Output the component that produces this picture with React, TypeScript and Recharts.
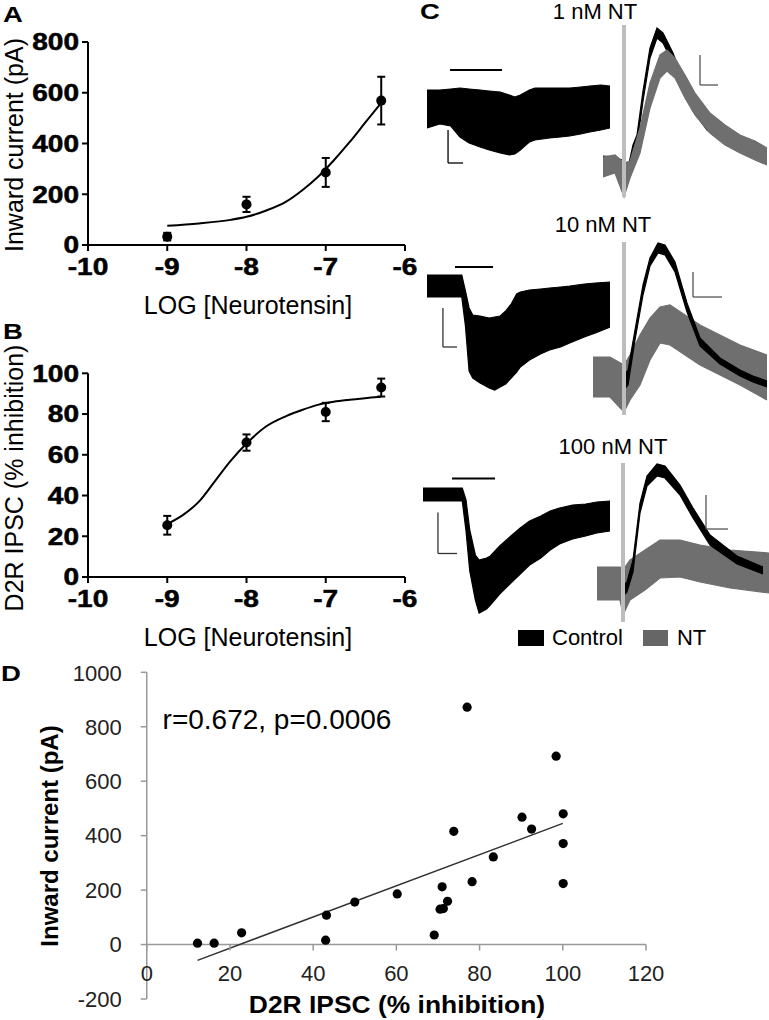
import React from 'react';
import {
  ComposedChart,
  ScatterChart,
  Scatter,
  Line,
  Area,
  XAxis,
  YAxis,
  ErrorBar,
  ReferenceLine,
} from 'recharts';

// ---- panel A: inward current vs log [NT]
const logConc = [-9, -8, -7, -6.3];
const currentMean = [33, 160, 286, 569];
const currentSem = [15, 30, 57, 94];
const currentFitX = [-9, -8.6, -8.2, -8, -7.75, -7.5, -7.3, -7.1, -6.9, -6.7, -6.5, -6.3];
const currentFitY = [76, 85, 99, 111, 136, 171, 215, 268, 333, 405, 483, 560];
const currentTicks = [0, 200, 400, 600, 800];

// ---- panel B: D2R IPSC inhibition vs log [NT]
const ipscMean = [25.4, 66, 81, 93];
const ipscSem = [4.6, 4, 4.5, 4.4];
const ipscFitX = [-9, -8.8, -8.6, -8.4, -8.2, -8, -7.75, -7.5, -7.3, -7.1, -6.9, -6.7, -6.3];
const ipscFitY = [26, 30.5, 37, 47, 57, 65.5, 74, 79, 82, 84.5, 86, 87, 88.5];
const ipscTicks = [0, 20, 40, 60, 80, 100];
const logTicks = [-10, -9, -8, -7, -6];

// ---- panel C: example traces (envelope of the noisy band, arbitrary units, baseline = 0)
// 1 nM holding current
const c1HoldT = [0, 7, 13, 18, 23, 29, 34, 40, 45, 48, 51, 54, 56, 59, 67, 73, 78, 84, 89, 95, 100];
const c1HoldHi = [0, 0, 1, 2, 1, 0, -1, -2, -5, -7, -5, -2, 0, 2, 2, 2, 2, 3, 4, 5, 4];
const c1HoldLo = [-38, -34, -36, -47, -53, -57, -60, -63, -65, -64, -60, -55, -52, -50, -48, -47, -46, -44, -42, -40, -38];
// 1 nM IPSC
const c1CtlT = [3, 15, 24, 28, 33, 37, 43, 50, 57, 63, 73, 83, 93, 107, 120, 137, 153, 167];
const c1CtlLo = [-7, -7, -20, -18, 2, 18, 62, 105, 125, 120, 100, 76, 52, 33, 23, 13, 5, 0];
const c1CtlHi = [7, 6, 2, -5, 18, 28, 72, 115, 135, 130, 110, 84, 58, 38, 28, 18, 10, 5];
const c1NtT = [3, 15, 24, 30, 40, 50, 60, 67, 75, 85, 95, 110, 125, 140, 155, 167];
const c1NtLo = [-14, -10, -34, -15, 10, 55, 85, 92, 85, 65, 48, 30, 18, 10, 3, -2];
const c1NtHi = [6, 8, 0, 2, 35, 80, 108, 113, 105, 88, 70, 50, 38, 28, 22, 15];
// 10 nM holding current
const c2HoldT = [0, 19, 21, 23, 25, 29, 34, 37, 40, 43, 46, 49, 51, 56, 62, 67, 73, 78, 86, 92, 100];
const c2HoldHi = [11, 11, -5, -22, -29, -30, -32, -31, -30, -25, -18, -8, -6, -4, -3, -2, -1, 0, 2, 3, 4];
const c2HoldLo = [-11, -11, -40, -85, -92, -97, -102, -104, -101, -98, -92, -86, -81, -74, -68, -64, -61, -57, -51, -47, -41];
// 10 nM IPSC
const c2CtlT = [31, 35, 42, 50, 57, 65, 72, 82, 94, 107, 127, 147, 160, 174];
const c2CtlLo = [-13, -8, 37, 82, 111, 124, 122, 105, 65, 31, 13, 1, -5, -10];
const c2CtlHi = [2, 7, 47, 92, 119, 134, 132, 115, 74, 39, 19, 7, 1, -4];
const c2NtT = [0, 17, 31, 37, 47, 57, 67, 77, 92, 107, 127, 147, 174];
const c2NtLo = [-20, -20, -35, -23, -8, 17, 34, 32, 22, 12, 2, -8, -23];
const c2NtHi = [20, 20, 12, 22, 42, 59, 70, 72, 62, 52, 42, 32, 22];
// 100 nM holding current
const c3HoldT = [0, 21, 23, 25, 28, 30, 34, 36, 41, 47, 52, 57, 63, 68, 73, 80, 87, 93, 100];
const c3HoldHi = [6, 6, -6, -36, -61, -66, -64, -62, -52, -42, -34, -27, -22, -17, -14, -11, -10, -8, -7];
const c3HoldLo = [-7, -7, -37, -77, -106, -119, -115, -111, -100, -89, -80, -71, -64, -56, -50, -45, -42, -39, -37];
// 100 nM IPSC
const c3CtlT = [26, 30, 36, 43, 50, 60, 68, 83, 96, 113, 140, 166];
const c3CtlLo = [-13, -9, 11, 70, 97, 107, 105, 88, 65, 38, 19, 9];
const c3CtlHi = [-3, 1, 23, 80, 107, 119, 117, 98, 75, 48, 27, 16];
const c3NtT = [0, 23, 26, 33, 48, 63, 83, 103, 133, 172];
const c3NtLo = [-17, -17, -32, -17, -7, 5, 6, 1, -5, -10];
const c3NtHi = [16, 16, 13, 23, 33, 43, 43, 38, 33, 30];

// ---- panel D: correlation
const inhibition = [12.2, 16.2, 22.8, 43.2, 43.0, 50.0, 60.2, 69.1, 70.5, 71.3, 72.3, 71.0, 73.8, 77, 78.2, 83.3, 90.2, 92.5, 98.4, 100.1, 100.1, 100.1];
const inward = [5, 5, 43, 108, 16, 156, 186, 35, 130, 132, 159, 212, 416, 872, 231, 322, 468, 424, 692, 480, 371, 224];
const trendX = [12.2, 100];
const trendY = [-58, 445];
const dXTicks = [0, 20, 40, 60, 80, 100, 120];
const dYTicks = [-200, 0, 200, 400, 600, 800, 1000];

const FONT = '"Liberation Sans", Arial, Helvetica, sans-serif';
const BLACK = '#000';
const GREY = '#6f6f6f';
const ARTIFACT = '#bdbdbd';

const pts = (xs: number[], ys: number[], err?: number[]) =>
  xs.map((x, i) => ({ x, y: ys[i], err: err ? err[i] : 0 }));
const band = (t: number[], lo: number[], hi: number[]) =>
  t.map((x, i) => ({ t: x, r: [lo[i], hi[i]] }));

const Txt = ({ x, y, size, bold = false, sx = 1, rotate = 0, color = '#000', children }: any) => (
  <div
    style={{
      position: 'absolute',
      left: x,
      top: y,
      transform: `translate(-50%, -50%) rotate(${rotate}deg) scaleX(${sx})`,
      fontSize: size,
      fontWeight: bold ? 700 : 400,
      lineHeight: 1,
      whiteSpace: 'nowrap',
      color,
      fontFamily: FONT,
    }}
  >
    {children}
  </div>
);

// bold, slightly wide tick labels like the original figure
const BoldTick = (props: any) => {
  const { x, y, payload, side } = props;
  const isX = side === 'x';
  return (
    <g transform={`translate(${x},${y}) scale(1.22,1)`}>
      <text
        x={0}
        y={0}
        dy={isX ? '0.72em' : '0.36em'}
        textAnchor={isX ? 'middle' : 'end'}
        fontSize={23}
        fontWeight={700}
        fontFamily={FONT}
        fill="#000"
        stroke="#000"
        strokeWidth={0.5}
      >
        {payload.value}
      </text>
    </g>
  );
};

const Dot = (p: any) => <circle cx={p.cx} cy={p.cy} r={5} fill="#000" />;

function DosePanel({ top, height, marginTop, xAxisH, yMax, yTicks, mean, sem, fitX, fitY }: any) {
  return (
    <div style={{ position: 'absolute', left: 0, top }}>
      <ComposedChart width={420} height={height} margin={{ top: marginTop, right: 15, bottom: 0, left: 0 }}>
        <XAxis
          type="number"
          dataKey="x"
          domain={[-10, -6]}
          ticks={logTicks}
          allowDataOverflow
          height={xAxisH}
          axisLine={{ stroke: '#000', strokeWidth: 2 }}
          tickLine={{ stroke: '#000', strokeWidth: 2 }}
          tickSize={6}
          tickMargin={7}
          tick={(p: any) => <BoldTick {...p} side="x" />}
        />
        <YAxis
          type="number"
          dataKey="y"
          domain={[0, yMax]}
          ticks={yTicks}
          allowDataOverflow
          width={88}
          axisLine={{ stroke: '#000', strokeWidth: 2 }}
          tickLine={{ stroke: '#000', strokeWidth: 2 }}
          tickSize={6}
          tickMargin={3}
          tick={(p: any) => <BoldTick {...p} side="y" />}
        />
        <Line
          data={pts(fitX, fitY)}
          dataKey="y"
          type="monotone"
          stroke="#000"
          strokeWidth={2}
          dot={false}
          isAnimationActive={false}
        />
        <Scatter data={pts(logConc, mean, sem)} dataKey="y" shape={Dot} isAnimationActive={false}>
          <ErrorBar dataKey="err" direction="y" width={4} stroke="#000" strokeWidth={2} />
        </Scatter>
      </ComposedChart>
    </div>
  );
}

type Seg = { a: [number, number]; b: [number, number]; color: string; w: number };

function Trace({ left, top, width, height, tMax, vMin, vMax, bands, segs }: any) {
  return (
    <div style={{ position: 'absolute', left, top }}>
      <ComposedChart width={width} height={height} margin={{ top: 0, right: 0, bottom: 0, left: 0 }}>
        <XAxis type="number" dataKey="t" domain={[0, tMax]} allowDataOverflow hide />
        <YAxis type="number" domain={[vMin, vMax]} allowDataOverflow hide />
        {bands.map((b: any, i: number) => (
          <Area
            key={i}
            data={b.data}
            dataKey="r"
            type="linear"
            stroke={b.color}
            strokeWidth={1.2}
            fill={b.color}
            fillOpacity={1}
            dot={false}
            activeDot={false}
            isAnimationActive={false}
          />
        ))}
        {segs.map((s: Seg, i: number) => (
          <ReferenceLine
            key={`s${i}`}
            segment={[
              { x: s.a[0], y: s.a[1] },
              { x: s.b[0], y: s.b[1] },
            ]}
            stroke={s.color}
            strokeWidth={s.w}
          />
        ))}
      </ComposedChart>
    </div>
  );
}

const stim = (t0: number, t1: number, v: number): Seg => ({ a: [t0, v], b: [t1, v], color: '#000', w: 2 });
const art = (t: number, v0: number, v1: number): Seg => ({ a: [t, v0], b: [t, v1], color: ARTIFACT, w: 4 });
const scaleBar = (t0: number, vTop: number, vBot: number, t1: number, color = '#333'): Seg[] => [
  { a: [t0, vTop], b: [t0, vBot], color, w: 1.3 },
  { a: [t0, vBot], b: [t1, vBot], color, w: 1.3 },
];

const D_H = 360;
const D_TOP = 12.3;
const D_XH = 21;
const D_PLOT_H = D_H - D_TOP - D_XH;
const D_ZERO_OFF = (D_PLOT_H * (0 - dYTicks[0])) / (dYTicks[dYTicks.length - 1] - dYTicks[0]);

const DXTick = (props: any) => {
  const { x, y, payload } = props;
  const y0 = y - D_ZERO_OFF;
  return (
    <g>
      <line x1={x} x2={x} y1={y0} y2={y0 + 6} stroke="#999" strokeWidth={1.5} />
      <text x={x} y={y0 + 29} dy="0.36em" textAnchor="middle" fontSize={22} fontFamily={FONT} fill="#222">
        {payload.value}
      </text>
    </g>
  );
};

export default function App() {
  return (
    <div
      style={{
        position: 'absolute',
        left: 0,
        top: 0,
        width: 769,
        height: 1020,
        overflow: 'hidden',
        background: '#fff',
        fontFamily: FONT,
      }}
    >
      {/* A */}
      <DosePanel
        top={0}
        height={320}
        marginTop={42}
        xAxisH={75}
        yMax={800}
        yTicks={currentTicks}
        mean={currentMean}
        sem={currentSem}
        fitX={currentFitX}
        fitY={currentFitY}
      />
      <Txt x={13} y={15} size={22} bold sx={1.25}>A</Txt>
      <Txt x={14} y={145} size={25} rotate={-90}>Inward current (pA)</Txt>
      <Txt x={248} y={305} size={25}>LOG [Neurotensin]</Txt>

      {/* B */}
      <DosePanel
        top={320}
        height={330}
        marginTop={53.3}
        xAxisH={73}
        yMax={100}
        yTicks={ipscTicks}
        mean={ipscMean}
        sem={ipscSem}
        fitX={ipscFitX}
        fitY={ipscFitY}
      />
      <Txt x={13} y={332} size={22} bold sx={1.25}>B</Txt>
      <Txt x={14} y={478} size={25} rotate={-90}>D2R IPSC (% inhibition)</Txt>
      <Txt x={248} y={637} size={25}>LOG [Neurotensin]</Txt>

      {/* C */}
      <Txt x={430} y={12} size={22} bold sx={1.25}>C</Txt>
      <Txt x={595} y={12} size={22}>1 nM NT</Txt>
      <Txt x={603} y={225} size={22}>10 nM NT</Txt>
      <Txt x={613} y={447} size={22}>100 nM NT</Txt>

      <Trace
        left={427} top={65} width={183} height={100} tMax={100} vMin={-75} vMax={25}
        bands={[{ data: band(c1HoldT, c1HoldLo, c1HoldHi), color: BLACK }]}
        segs={[stim(12.6, 41, 20), ...scaleBar(11.5, -40, -73, 19.7, '#000')]}
      />
      <Trace
        left={600} top={23} width={169} height={180} tMax={169} vMin={-40} vMax={140}
        bands={[
          { data: band(c1CtlT, c1CtlLo, c1CtlHi), color: BLACK },
          { data: band(c1NtT, c1NtLo, c1NtHi), color: GREY },
        ]}
        segs={[art(24, -34, 138), ...scaleBar(100, 108, 78, 118, '#555')]}
      />
      <Trace
        left={427} top={256} width={183} height={140} tMax={100} vMin={-110} vMax={30}
        bands={[{ data: band(c2HoldT, c2HoldLo, c2HoldHi), color: BLACK }]}
        segs={[stim(15.3, 36.1, 19), ...scaleBar(8.7, -22, -61, 16.4)]}
      />
      <Trace
        left={593} top={240} width={176} height={180} tMax={176} vMin={-43} vMax={137}
        bands={[
          { data: band(c2NtT, c2NtLo, c2NtHi), color: GREY },
          { data: band(c2CtlT, c2CtlLo, c2CtlHi), color: BLACK },
        ]}
        segs={[art(31, -38, 135), ...scaleBar(100, 105, 80, 129, '#555')]}
      />
      <Trace
        left={423} top={468.5} width={187} height={150} tMax={100} vMin={-125} vMax={25}
        bands={[{ data: band(c3HoldT, c3HoldLo, c3HoldHi), color: BLACK }]}
        segs={[stim(15.5, 38.5, 15.5), ...scaleBar(8, -18.5, -59.5, 18.2)]}
      />
      <Trace
        left={597} top={460} width={172} height={165} tMax={172} vMin={-42} vMax={123}
        bands={[
          { data: band(c3NtT, c3NtLo, c3NtHi), color: GREY },
          { data: band(c3CtlT, c3CtlLo, c3CtlHi), color: BLACK },
        ]}
        segs={[art(26, -39, 120), ...scaleBar(109, 88, 54, 131, '#555')]}
      />

      {/* legend */}
      <div
        style={{
          position: 'absolute',
          left: 518,
          top: 627,
          display: 'flex',
          alignItems: 'center',
          fontSize: 22,
          lineHeight: 1,
          fontFamily: FONT,
          whiteSpace: 'nowrap',
        }}
      >
        <span style={{ display: 'inline-block', width: 26, height: 16, background: BLACK, marginRight: 8 }} />
        <span>Control</span>
        <span style={{ display: 'inline-block', width: 25, height: 16, background: '#666', marginLeft: 20, marginRight: 9 }} />
        <span>NT</span>
      </div>

      {/* D */}
      <div style={{ position: 'absolute', left: 0, top: 660 }}>
        <ScatterChart width={680} height={D_H} margin={{ top: D_TOP, right: 34, bottom: 0, left: 0 }}>
          <XAxis
            type="number"
            dataKey="x"
            domain={[0, 120]}
            ticks={dXTicks}
            allowDataOverflow
            height={D_XH}
            axisLine={false}
            tickLine={false}
            tickSize={0}
            tickMargin={0}
            tick={DXTick}
          />
          <YAxis
            type="number"
            dataKey="y"
            domain={[-200, 1000]}
            ticks={dYTicks}
            allowDataOverflow
            width={146.75}
            axisLine={{ stroke: '#999', strokeWidth: 1.5 }}
            tickLine={{ stroke: '#999', strokeWidth: 1.5 }}
            tickSize={6}
            tickMargin={19}
            tick={{ fontSize: 22, fill: '#222', fontFamily: FONT }}
          />
          <ReferenceLine y={0} stroke="#999" strokeWidth={1.5} />
          <Scatter
            data={pts(trendX, trendY)}
            line={{ stroke: '#333', strokeWidth: 1.5 }}
            shape={() => <g />}
            isAnimationActive={false}
          />
          <Scatter
            data={pts(inhibition, inward)}
            shape={(p: any) => <circle cx={p.cx} cy={p.cy} r={4.6} fill="#000" />}
            isAnimationActive={false}
          />
        </ScatterChart>
      </div>
      <Txt x={11} y={674} size={22} bold sx={1.25}>D</Txt>
      <Txt x={277} y={720} size={28}>r=0.672, p=0.0006</Txt>
      <Txt x={50} y={836} size={24} bold rotate={-90}>Inward current (pA)</Txt>
      <Txt x={397} y={1005} size={24} bold sx={1.1}>D2R IPSC (% inhibition)</Txt>
    </div>
  );
}
